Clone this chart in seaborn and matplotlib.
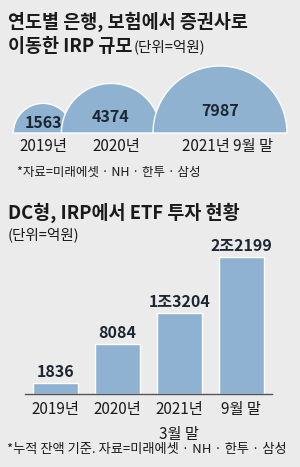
import matplotlib
matplotlib.use('Agg')
import matplotlib.pyplot as plt
import seaborn as sns
import numpy as np
from matplotlib.patches import Wedge

# ---- data ----
move_years = ['2019년', '2020년', '2021년 9월 말']
move_values = [1563, 4374, 7987]
etf_periods = ['2019년', '2020년', '2021년\n3월 말', '9월 말']
etf_values = [1836, 8084, 13204, 22199]
etf_labels = ['1836', '8084', '1조3204', '2조2199']

sns.set_theme(style='white')
plt.rcParams['font.family'] = ['Noto Sans CJK KR', 'DejaVu Sans']

BG = '#ebebeb'
CIRCLE = '#8cb0d1'
BAR = '#8fb2d3'
TXT = '#1a1a1a'
W, H = 300, 467

fig = plt.figure(figsize=(W / 100, H / 100), dpi=100, facecolor=BG)

# full-figure pixel axes for texts and semicircles
ax0 = fig.add_axes([0, 0, 1, 1])
ax0.set_xlim(0, W)
ax0.set_ylim(H, 0)
ax0.axis('off')

ax0.text(8, 22, '연도별 은행, 보험에서 증권사로', fontsize=13.3, fontweight='bold',
         color=TXT, va='center', ha='left')
t = ax0.text(8, 47, '이동한 IRP 규모', fontsize=13.3, fontweight='bold',
             color=TXT, va='center', ha='left')
ax0.annotate('(단위=억원)', xycoords=t, xy=(1, 0.5), xytext=(1, 0),
             textcoords='offset points', fontsize=10.5, color=TXT,
             va='center', ha='left')

circle_x = [43, 111, 220]
label_x = [43, 116, 228]
base = 133
k = 67 / np.sqrt(max(move_values))
for cx, lx, v, lab in zip(circle_x, label_x, move_values, move_years):
    r = k * np.sqrt(v)
    ax0.add_patch(Wedge((cx, base), r, 180, 360, facecolor=CIRCLE,
                        edgecolor='white', lw=1.0, alpha=0.97))
    ax0.text(cx, base - 0.33 * r, f'{v}', fontsize=11.5, fontweight='bold',
             color='#1c2733', ha='center', va='center')
    ax0.text(lx, 147, lab, fontsize=11, color=TXT, ha='center', va='center')

ax0.text(17, 172, '*자료=미래에셋 · NH · 한투 · 삼성', fontsize=9, color=TXT,
         ha='left', va='center')

ax0.text(8, 213, 'DC형, IRP에서 ETF 투자 현황', fontsize=13.3, fontweight='bold',
         color=TXT, ha='left', va='center')
ax0.text(8, 235, '(단위=억원)', fontsize=10.5, color=TXT, ha='left', va='center')

ax0.text(7, 450, '*누적 잔액 기준. 자료=미래에셋 · NH · 한투 · 삼성', fontsize=9.5,
         color=TXT, ha='left', va='center')

# bar chart axes
px_per_unit = 137 / 22199
ax1 = fig.add_axes([25 / W, (H - 394) / H, 247 / W, 144 / H])
ax1.set_facecolor('none')
sns.barplot(x=etf_periods, y=etf_values, color=BAR, saturation=1,
            width=0.73, ax=ax1)
ax1.set_ylim(0, 144 / px_per_unit)
ax1.set_xlim(-0.5, len(etf_periods) - 0.5)
for s in ['top', 'right', 'left']:
    ax1.spines[s].set_visible(False)
ax1.spines['bottom'].set_color('#555555')
ax1.spines['bottom'].set_linewidth(1)
ax1.set_yticks([])
ax1.tick_params(axis='x', length=0, pad=5, labelsize=11, labelcolor=TXT)
for lbl in ax1.get_xticklabels():
    lbl.set_linespacing(1.6)
ax1.set_xlabel('')
ax1.set_ylabel('')
ax1.bar_label(ax1.containers[0], labels=etf_labels, padding=2,
              fontsize=11.5, fontweight='bold', color='#1c2733')

fig.savefig('out.png', dpi=100, facecolor=BG)
